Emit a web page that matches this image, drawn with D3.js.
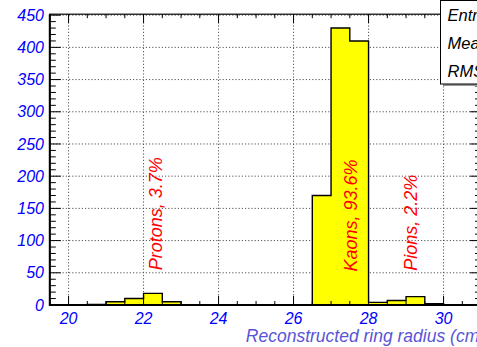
<!DOCTYPE html>
<html>
<head>
<meta charset="utf-8">
<script src="https://cdn.jsdelivr.net/npm/d3@7"></script>
<style>
  html, body { margin: 0; padding: 0; background: #fff; }
  svg { display: block; }
  text { font-family: "Liberation Sans", Arial, Helvetica, sans-serif; font-style: italic; }
</style>
</head>
<body>
<svg id="chart" width="477" height="347"></svg>
<script>
// ---- data ----
const binStart = 19.5;
const binWidth = 0.5;
const counts = [0, 0, 1, 5, 10, 18, 5, 0, 0, 0, 0, 0, 0, 0, 170, 430, 410, 4, 7, 13, 2, 0, 0];
const xTickValues = [20, 22, 24, 26, 28, 30];
const yTickValues = [0, 50, 100, 150, 200, 250, 300, 350, 400, 450];
const labelTexts = ["Protons, 3.7%", "Kaons, 93.6%", "Pions, 2.2%"];
const labelX = [22.5, 27.7, 29.3];
const labelY = [54, 52, 53];
const statNames = ["Entries", "Mean", "RMS"];
const xTitle = "Reconstructed ring radius (cm)";

// ---- layout ----
const svg = d3.select("#chart");
const x = d3.scaleLinear().domain([19.5, 31]).range([49.8, 481.05]);
const y = d3.scaleLinear().domain([0, 451.5]).range([305, 14.2]);
const X0 = x.range()[0], X1 = x.range()[1], Y0 = y.range()[0], Y1 = y.range()[1];

// grid
const grid = svg.append("g").attr("stroke", "#555").attr("stroke-width", 1).attr("stroke-dasharray", "1.2,2");
grid.selectAll("line.gx").data(xTickValues).enter().append("line")
  .attr("x1", d => x(d)).attr("x2", d => x(d)).attr("y1", Y0).attr("y2", Y1);
grid.selectAll("line.gy").data(yTickValues.filter(d => d > 0)).enter().append("line")
  .attr("x1", X0).attr("x2", X1).attr("y1", d => y(d)).attr("y2", d => y(d));

// histogram
const pts = [[binStart, 0]];
counts.forEach((c, i) => {
  const xl = binStart + i * binWidth;
  pts.push([xl, c], [xl + binWidth, c]);
});
pts.push([binStart + counts.length * binWidth, 0]);
svg.append("path")
  .attr("d", d3.line().x(d => x(d[0])).y(d => y(d[1]))(pts))
  .attr("fill", "#ffff00").attr("stroke", "#000").attr("stroke-width", 1.4);

// axes ticks
const ax = svg.append("g").attr("stroke", "#000").attr("stroke-width", 1);
const yMinor = d3.range(0, 452, 10);
ax.selectAll("line.yl").data(yMinor).enter().append("line")
  .attr("x1", X0).attr("x2", d => X0 + (d % 50 === 0 ? 11 : 6))
  .attr("y1", d => y(d)).attr("y2", d => y(d));
ax.selectAll("line.yr").data(yMinor).enter().append("line")
  .attr("x1", X1).attr("x2", d => X1 - (d % 50 === 0 ? 11 : 6))
  .attr("y1", d => y(d)).attr("y2", d => y(d));
const xMinor = d3.range(19.5, 31.01, 0.5);
ax.selectAll("line.xb").data(xMinor).enter().append("line")
  .attr("x1", d => x(d)).attr("x2", d => x(d))
  .attr("y1", Y0).attr("y2", d => Y0 - (Math.abs(d % 2) < 1e-9 ? 9 : 4));
ax.selectAll("line.xt").data(xMinor).enter().append("line")
  .attr("x1", d => x(d)).attr("x2", d => x(d))
  .attr("y1", Y1).attr("y2", d => Y1 + (Math.abs(d % 2) < 1e-9 ? 9 : 4));

// frame
svg.append("rect").attr("x", X0).attr("y", Y1).attr("width", X1 - X0).attr("height", Y0 - Y1)
  .attr("fill", "none").attr("stroke", "#000").attr("stroke-width", 1.2);
svg.append("line").attr("x1", X0).attr("x2", X0).attr("y1", Y1).attr("y2", Y0 + 1)
  .attr("stroke", "#000").attr("stroke-width", 2);
svg.append("line").attr("x1", X0).attr("x2", X1).attr("y1", Y0).attr("y2", Y0)
  .attr("stroke", "#000").attr("stroke-width", 2);

// tick labels
svg.selectAll("text.yt").data(yTickValues).enter().append("text")
  .attr("x", 44).attr("y", d => y(d) + 5.6).attr("text-anchor", "end")
  .attr("font-size", 16).attr("fill", "#0000ff").text(d => d);
svg.selectAll("text.xt").data(xTickValues).enter().append("text")
  .attr("x", d => x(d)).attr("y", 323.5).attr("text-anchor", "middle")
  .attr("font-size", 16).attr("fill", "#0000ff").text(d => d);

// axis title
svg.append("text").attr("x", X1 + 4).attr("y", 342).attr("text-anchor", "end")
  .attr("font-size", 17.5).attr("fill", "#5954d8").text(xTitle);

// particle labels
svg.selectAll("text.lab").data(labelTexts).enter().append("text")
  .attr("transform", (d, i) => `translate(${x(labelX[i])},${y(labelY[i])}) rotate(-90)`)
  .attr("font-size", 18).attr("fill", "#ff0000").text(d => d);

// stats box
svg.append("rect").attr("x", 443).attr("y", 2.5).attr("width", 200).attr("height", 83.5)
  .attr("fill", "#999");
svg.append("rect").attr("x", 440.5).attr("y", 0.5).attr("width", 200).attr("height", 83.5)
  .attr("fill", "#fff").attr("stroke", "#000").attr("stroke-width", 1);
svg.selectAll("text.st").data(statNames).enter().append("text")
  .attr("x", 447.5).attr("y", (d, i) => 20.8 + i * 28.2).attr("font-size", 16.5).attr("fill", "#000").text(d => d);
</script>
</body>
</html>
